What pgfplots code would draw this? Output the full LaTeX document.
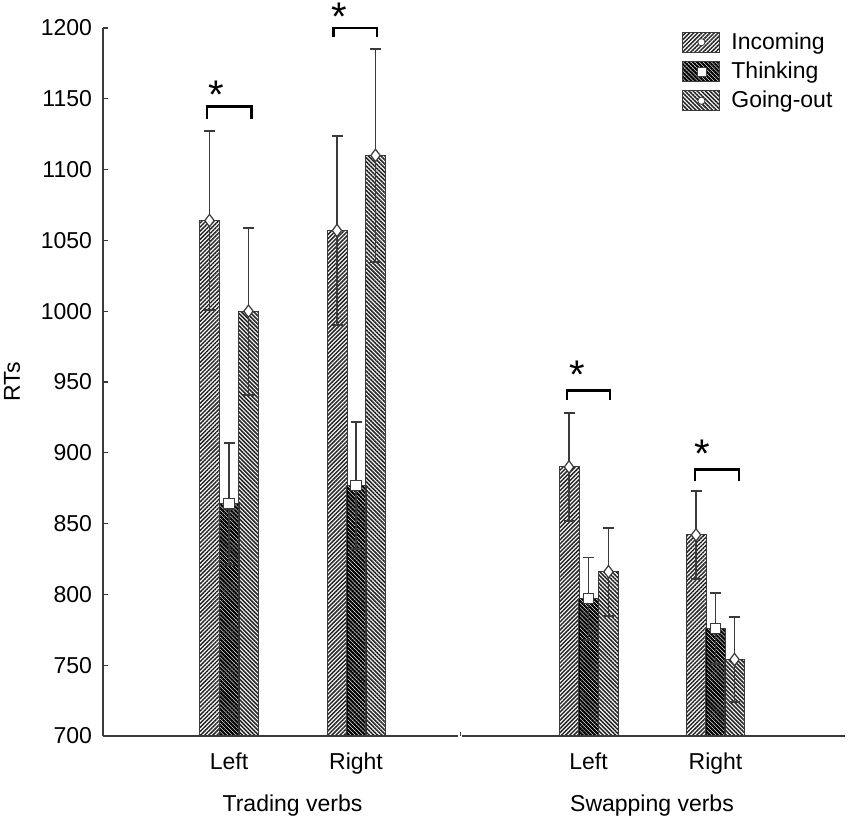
\documentclass[border=0pt]{standalone}
\usepackage{fontspec}
\setmainfont{Liberation Sans}
\usepackage{pgfplots}
\pgfplotsset{compat=1.18}
\usetikzlibrary{patterns.meta}
\definecolor{edge}{HTML}{3A3A3A}
\begin{document}
\begin{tikzpicture}
\useasboundingbox (-51.5pt,-44.5pt) rectangle (373.5pt,368pt);
\begin{axis}[
  scale only axis, width=371pt, height=354pt,
  xmin=103, xmax=845, ymin=700, ymax=1200,
  axis y line=left, axis x line=none,
  axis line style={-, edge, line width=0.8pt},
  ytick={700,750,...,1200},
  tick align=inside, major tick length=2.5pt,
  ytick style={edge, line width=0.6pt},
  yticklabel style={xshift=-2pt},
  /pgf/number format/assume math mode=true,
  /pgf/number format/1000 sep={},
  font=\fontsize{11.5}{13}\selectfont,
  clip=false,
  error bars/error bar style={edge, line width=0.9pt},
  error bars/error mark options={rotate=90, mark size=2.75pt, edge, line width=0.9pt},
  legend style={draw=none, fill=none, at={(axis cs:682,1200)}, anchor=north west, row sep=0.8pt, inner sep=0pt, font=\fontsize{11.5}{13}\selectfont},
  legend cell align=left,
]
% Incoming
\addplot[ybar, bar width=20, bar shift=0pt, draw=edge, line width=0.5pt,
  pattern={Lines[angle=45,distance=1.45pt,line width=0.75pt]}, pattern color=black!85,
  error bars/.cd, y dir=both, y explicit,
  /pgfplots/legend image code/.code={\draw[draw=edge,line width=0.5pt,pattern={Lines[angle=45,distance=1.45pt,line width=0.75pt]},pattern color=black!85] (0pt,-5pt) rectangle (18.5pt,5pt); \draw[fill=white,draw=edge,line width=0.4pt] (9.25pt,0pt) circle (1.8pt);}]
  table[x=x,y=y,y error=e] {
x y e
209.5 1064 63
337 1057 67
569 890 38
696 842 31
};
\addlegendentry{\hspace{3.5pt}Incoming}
% Thinking
\addplot[ybar, bar width=20, bar shift=0pt, draw=edge, line width=0.5pt,
  pattern={Lines[angle=-45,distance=1.45pt,line width=1.1pt]}, pattern color=black,
  error bars/.cd, y dir=both, y explicit,
  /pgfplots/legend image code/.code={\draw[draw=edge,line width=0.5pt,pattern={Lines[angle=-45,distance=1.45pt,line width=1.1pt]},pattern color=black] (0pt,-5pt) rectangle (18.5pt,5pt); \draw[fill=white,draw=edge,line width=0.4pt] (7pt,-2.25pt) rectangle (11.5pt,2.25pt);}]
  table[x=x,y=y,y error=e] {
x y e
229 864 43
356 877 45
588.5 797 29
715.5 776 25
};
\addlegendentry{\hspace{3.5pt}Thinking}
% Going-out
\addplot[ybar, bar width=20, bar shift=0pt, draw=edge, line width=0.5pt,
  pattern={Lines[angle=-45,distance=1.45pt,line width=0.8pt]}, pattern color=black!85,
  error bars/.cd, y dir=both, y explicit,
  /pgfplots/legend image code/.code={\draw[draw=edge,line width=0.5pt,pattern={Lines[angle=-45,distance=1.45pt,line width=0.8pt]},pattern color=black!85] (0pt,-5pt) rectangle (18.5pt,5pt); \draw[fill=white,draw=edge,line width=0.4pt] (9.25pt,0pt) circle (1.8pt);}]
  table[x=x,y=y,y error=e] {
x y e
248.5 1000 59
375.5 1110 75
608.5 816 31
734.5 754 30
};
\addlegendentry{\hspace{3.5pt}Going-out}
% markers
\addplot[only marks, forget plot, mark=diamond*, mark size=3.1pt, mark options={fill=white, draw=edge, line width=0.6pt}] coordinates {
(209.5,1064) (337,1057) (569,890) (696,842)
(248.5,1000) (375.5,1110) (608.5,816) (734.5,754)};
\addplot[only marks, forget plot, mark=square*, mark size=2.6pt, mark options={fill=white, draw=edge, line width=0.6pt}] coordinates {
(229,864) (356,877) (588.5,797) (715.5,776)};
% baseline
\draw[edge, line width=0.8pt] (axis cs:103,700) -- (axis cs:458,700);
\draw[edge, line width=0.8pt] (axis cs:462,700) -- (axis cs:845,700);
\draw[edge, line width=0.6pt] (axis cs:460.5,700) -- (axis cs:460.5,702.5);
% y label
\node[rotate=90] at (axis cs:12,950) {RTs};
% category labels
\node[anchor=base] at (axis cs:229,676) {Left};
\node[anchor=base] at (axis cs:356,676) {Right};
\node[anchor=base] at (axis cs:588.5,676) {Left};
\node[anchor=base] at (axis cs:715.5,676) {Right};
\node[anchor=base] at (axis cs:292.5,646.5) {Trading verbs};
\node[anchor=base] at (axis cs:652,646.5) {Swapping verbs};
% significance brackets
\draw[black, line width=1.4pt] (axis cs:207,1136) -- (axis cs:207,1144.5) -- (axis cs:251.5,1144.5) -- (axis cs:251.5,1136);
\draw[black, line width=1.4pt] (axis cs:333.5,1193.5) -- (axis cs:333.5,1200) -- (axis cs:377,1200) -- (axis cs:377,1193.5);
\draw[black, line width=1.4pt] (axis cs:567,937) -- (axis cs:567,944) -- (axis cs:610,944) -- (axis cs:610,937);
\draw[black, line width=1.4pt] (axis cs:695,880) -- (axis cs:695,888) -- (axis cs:739,888) -- (axis cs:739,880);
\node[font=\fontsize{20}{20}\selectfont] at (axis cs:216,1153) {*};
\node[font=\fontsize{20}{20}\selectfont] at (axis cs:339,1208) {*};
\node[font=\fontsize{20}{20}\selectfont] at (axis cs:577,955) {*};
\node[font=\fontsize{20}{20}\selectfont] at (axis cs:702,899) {*};
\end{axis}
\end{tikzpicture}
\end{document}
